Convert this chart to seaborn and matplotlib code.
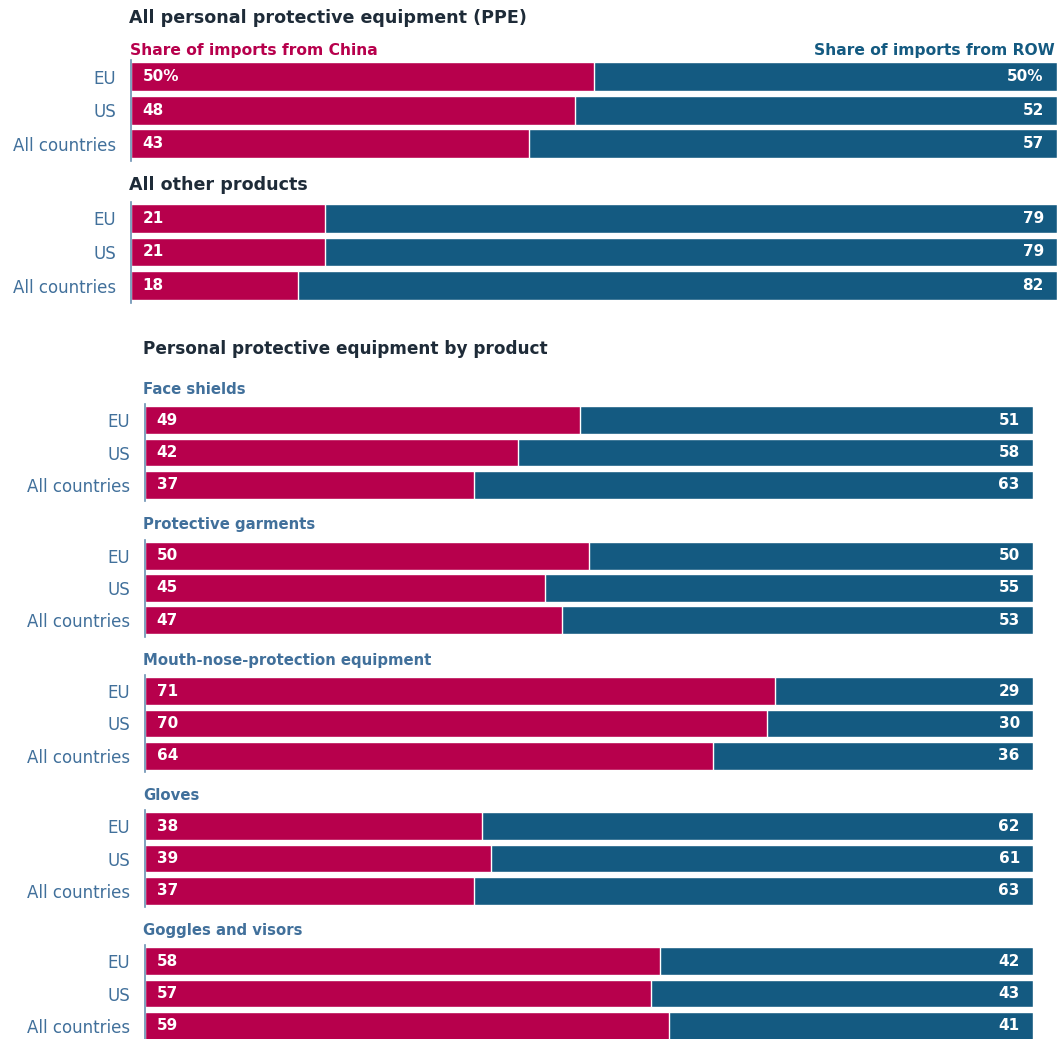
import numpy as np
import pandas as pd
import matplotlib
matplotlib.use("Agg")
import matplotlib.pyplot as plt
import seaborn as sns

# data
regions = ["EU", "US", "All countries"]

groups = ["All personal protective equipment (PPE)", "All other products",
          "Face shields", "Protective garments", "Mouth-nose-protection equipment",
          "Gloves", "Goggles and visors"]

china_ppe = [50, 48, 43]
row_ppe = [50, 52, 57]
china_other = [21, 21, 18]
row_other = [79, 79, 82]
china_face = [49, 42, 37]
row_face = [51, 58, 63]
china_garments = [50, 45, 47]
row_garments = [50, 55, 53]
china_mouth = [71, 70, 64]
row_mouth = [29, 30, 36]
china_gloves = [38, 39, 37]
row_gloves = [62, 61, 63]
china_goggles = [58, 57, 59]
row_goggles = [42, 43, 41]

china_all = [china_ppe, china_other, china_face, china_garments, china_mouth, china_gloves, china_goggles]
row_all = [row_ppe, row_other, row_face, row_garments, row_mouth, row_gloves, row_goggles]

RED = "#B7004C"
BLUE = "#145A81"
LABEL = "#41709B"
DARK = "#1E2B38"

W, H = 1061, 1039
sns.set_style("white")
plt.rcParams['font.family'] = ['DejaVu Sans']

fig = plt.figure(figsize=(W / 100, H / 100), dpi=100)

# pixel layout: (left, right, top of axes, height)
layout = [
    (131, 1057, 60, 100.5),
    (131, 1057, 201.5, 101),
    (145, 1033, 404, 97),
    (145, 1033, 539.5, 97),
    (145, 1033, 675, 97),
    (145, 1033, 810, 97),
    (145, 1033, 945, 97),
]


def fx(px):
    return px / W


def fy(py):
    return 1 - py / H


for gi, (left, right, top, h) in enumerate(layout):
    ax = fig.add_axes([left / W, 1 - (top + h) / H, (right - left) / W, h / H])
    df = pd.DataFrame({"region": regions, "china": china_all[gi], "row": row_all[gi]})
    df["total"] = df["china"] + df["row"]
    sns.barplot(data=df, x="total", y="region", color=BLUE, orient="h", width=0.86,
                saturation=1, ax=ax)
    sns.barplot(data=df, x="china", y="region", color=RED, orient="h", width=0.86,
                saturation=1, ax=ax)
    ax.set_xlim(0, 100)
    ax.set_ylim(2.5, -0.5)
    ax.set_xlabel("")
    ax.set_ylabel("")
    ax.set_xticks([])
    for s in ["top", "right", "bottom"]:
        ax.spines[s].set_visible(False)
    ax.spines["left"].set_color("#6A90B2")
    ax.spines["left"].set_linewidth(1.2)
    ax.tick_params(axis="y", length=0, pad=10.5, labelsize=12, labelcolor=LABEL)
    for i in range(len(regions)):
        c = df["china"][i]
        r = df["row"][i]
        suffix = "%" if gi == 0 and i == 0 else ""
        ax.annotate(f"{c}{suffix}", (0, i), xytext=(8.5, 0), textcoords="offset points",
                    ha="left", va="center", color="white", fontsize=11, fontweight="bold")
        ax.annotate(f"{r}{suffix}", (c + r, i), xytext=(-9.5, 0), textcoords="offset points",
                    ha="right", va="center", color="white", fontsize=11, fontweight="bold")

# titles
fig.text(fx(129), fy(18), groups[0], ha="left", va="center", color=DARK,
         fontsize=12.6, fontweight="bold")
fig.text(fx(130), fy(50), "Share of imports from China", ha="left", va="center", color=RED,
         fontsize=11.2, fontweight="bold")
fig.text(fx(1055), fy(50), "Share of imports from ROW", ha="right", va="center", color=BLUE,
         fontsize=11.2, fontweight="bold")
fig.text(fx(129), fy(185), groups[1], ha="left", va="center", color=DARK,
         fontsize=12.6, fontweight="bold")
fig.text(fx(143), fy(349), "Personal protective equipment by product", ha="left", va="center",
         color=DARK, fontsize=12.2, fontweight="bold")

sub_y = [389, 524, 660, 795, 930]
for name, y in zip(groups[2:], sub_y):
    fig.text(fx(143), fy(y), name, ha="left", va="center", color=LABEL,
             fontsize=10.7, fontweight="bold")

fig.savefig("out.png", dpi=100)
